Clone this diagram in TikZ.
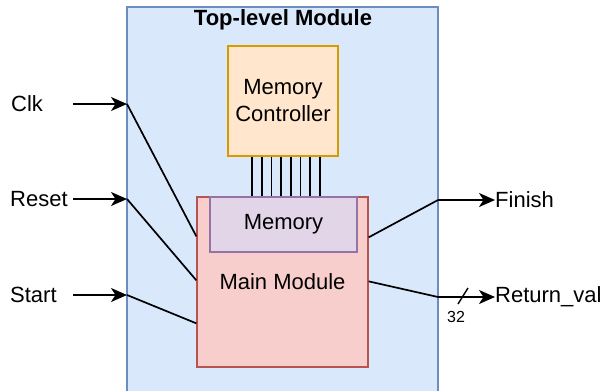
\documentclass[tikz,border=0pt]{standalone}
\usepackage{fontspec}
\setmainfont{Liberation Sans}
\usepackage{tikz}
\usetikzlibrary{arrows.meta,calc,positioning}

\definecolor{topfill}{HTML}{DAE8FC}
\definecolor{topline}{HTML}{6C8EBF}
\definecolor{mcfill}{HTML}{FFE6CC}
\definecolor{mcline}{HTML}{D79B00}
\definecolor{mainfill}{HTML}{F8CECC}
\definecolor{mainline}{HTML}{B85450}
\definecolor{memfill}{HTML}{E1D5E7}
\definecolor{memline}{HTML}{9673A6}

\tikzset{
  blk/.style={draw, line width=1.3pt, inner sep=0pt, align=center},
  wire/.style={line width=1.7pt},
  sig/.style={line width=1.7pt, -{Stealth[length=16pt, width=14pt, inset=4.5pt]}},
  lbl/.style={anchor=west, inner sep=0pt}
}

\begin{document}
\begin{tikzpicture}[x=1pt, y=-1pt, font=\fontsize{22pt}{26pt}\selectfont]
\useasboundingbox (0,0) rectangle (603,391);
\draw[topline, fill=topfill, line width=1.3pt] (127,7) rectangle (438,400);
\node (title) at (283,20) {\textbf{Top-level Module}};
\node[blk, draw=mcline, fill=mcfill, minimum width=110pt, minimum height=110pt] (mc) at (283,101) {Memory\\[1pt]Controller};
\node[blk, draw=mainline, fill=mainfill, minimum width=171pt, minimum height=170pt] (main) at (282.5,282) {Main Module};
\node[blk, draw=memline, fill=memfill, minimum width=147pt, minimum height=55pt] (mem) at (283.5,224.5) {Memory};
\foreach \i in {0,...,7}
  \draw[wire] ([xshift={-31pt+\i*9.7pt}]mc.south) -- ([xshift={-31pt+\i*9.7pt}]mc.south |- mem.north);

\node[lbl] (clk) at (11,104) {Clk};
\node[lbl] (reset) at (10,199) {Reset};
\node[lbl] (start) at (10,295) {Start};
\coordinate (clkin) at (73,104);
\coordinate (resetin) at (73,199);
\coordinate (startin) at (73,295);
\coordinate (clkpin) at (127,104);
\coordinate (resetpin) at (127,199);
\coordinate (startpin) at (127,295);
\draw[sig] (clkin) -- (clkpin);
\draw[sig] (resetin) -- (resetpin);
\draw[sig] (startin) -- (startpin);
\draw[wire] (clkpin) -- ($(main.north west)+(0,40)$);
\draw[wire] (resetpin) -- ($(main.north west)+(0,84)$);
\draw[wire] (startpin) -- ($(main.north west)+(0,127)$);

\coordinate (finpin) at (438,200);
\coordinate (retpin) at (438,297);
\node[lbl] (finish) at (495,200) {Finish};
\node[lbl] (retval) at (495,297) {Return\_val};
\draw[wire] ($(main.north east)+(0,41)$) -- (finpin);
\draw[wire] ($(main.north east)+(0,85)$) -- (retpin);
\draw[sig] (finpin) -- (finish.west);
\draw[sig] (retpin) -- (retval.west);
\draw[line width=1.4pt] (458,304) -- (468,288);
\node[font=\fontsize{16pt}{18pt}\selectfont] (width) at (456,317) {32};
\end{tikzpicture}
\end{document}
